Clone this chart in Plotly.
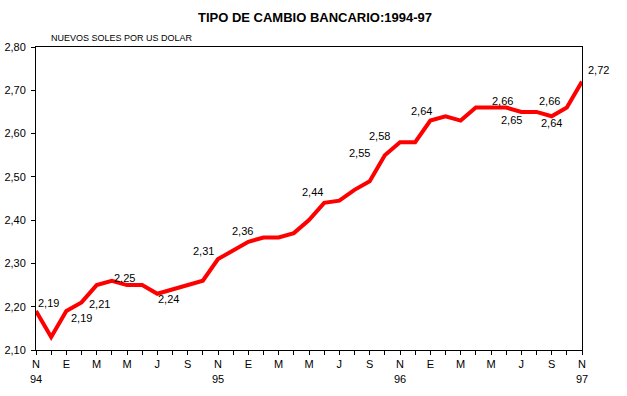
import plotly.graph_objects as go

# Monthly data, Nov 1994 .. Nov 1997
months = ["N", "D", "E", "F", "M", "A", "M", "J", "J", "A", "S", "O",
          "N", "D", "E", "F", "M", "A", "M", "J", "J", "A", "S", "O",
          "N", "D", "E", "F", "M", "A", "M", "J", "J", "A", "S", "O", "N"]
years = {0: "94", 12: "95", 24: "96", 36: "97"}
values = [2.19, 2.13, 2.19, 2.21, 2.25, 2.26, 2.25, 2.25, 2.23, 2.24, 2.25, 2.26,
          2.31, 2.33, 2.35, 2.36, 2.36, 2.37, 2.40, 2.44, 2.445, 2.47, 2.49, 2.55,
          2.58, 2.58, 2.63, 2.64, 2.63, 2.66, 2.66, 2.66, 2.65, 2.65, 2.64, 2.66, 2.72]
labelled = [0, 2, 3, 6, 9, 12, 15, 19, 23, 24, 27, 31, 32, 35, 34, 36]

# label offsets in pixels (xshift, yshift)
offsets = {0: (12, 8), 2: (15, -7), 3: (18, -2), 6: (-3, 7), 9: (-4, -10),
           12: (-15, 8), 15: (-21, 6), 19: (-12, 11), 23: (-25, 2), 24: (-21, 6),
           27: (-24, 5), 31: (-4, 7), 32: (-10, -8), 35: (-17, 7), 34: (0, -7),
           36: (16, 12)}

FONT = "Liberation Sans, Arial, sans-serif"
x = list(range(len(values)))

tickvals = x
ticktext = []
for i, m in enumerate(months):
    if i % 2 == 0:
        ticktext.append(m + ("<br>" + years[i] if i in years else ""))
    else:
        ticktext.append("")

fig = go.Figure()
fig.add_trace(go.Scatter(x=x, y=values, mode="lines",
                         line=dict(color="#FF0000", width=4), hoverinfo="skip"))

for i in labelled:
    dx, dy = offsets[i]
    fig.add_annotation(x=i, y=values[i], xref="x", yref="y",
                       text=f"{values[i]:.2f}".replace(".", ","),
                       showarrow=False, xshift=dx, yshift=dy,
                       font=dict(family=FONT, size=11, color="black"))

fig.add_annotation(x=(49 - 36) / 546, y=(350 - 38) / 303, xref="paper", yref="paper",
                   xanchor="left", yanchor="middle", showarrow=False,
                   text="NUEVOS SOLES POR US DOLAR",
                   font=dict(family=FONT, size=9, color="black"))

fig.update_layout(
    width=627, height=396,
    margin=dict(l=36, r=45, t=47, b=46, autoexpand=False),
    paper_bgcolor="white", plot_bgcolor="white",
    showlegend=False,
    separators=",.",
    title=dict(text="<b>TIPO DE CAMBIO BANCARIO:1994-97</b>",
               x=315 / 627, xanchor="center", y=1 - 17 / 396, yanchor="middle",
               yref="container", xref="container", automargin=False,
               font=dict(family=FONT, size=13, color="black")),
    font=dict(family=FONT, size=11, color="black"),
)
fig.update_xaxes(range=[0, 36], tickmode="array", tickvals=tickvals, ticktext=ticktext,
                 showline=True, linecolor="black", linewidth=1, mirror=True,
                 ticks="outside", ticklen=4, tickcolor="black", showgrid=False,
                 zeroline=False, tickangle=0, automargin=False,
                 tickfont=dict(family=FONT, size=11))
fig.update_yaxes(range=[2.1, 2.8], dtick=0.1, tick0=2.1, tickformat=".2f",
                 showline=True, linecolor="black", linewidth=1, mirror=True,
                 ticks="outside", ticklen=4, tickcolor="black", showgrid=False,
                 zeroline=False, automargin=False, ticklabelstandoff=3,
                 tickfont=dict(family=FONT, size=11))

fig.write_html("out.html",
               post_script="document.body.style.margin='0';document.body.style.overflow='hidden';",
               config={"displayModeBar": False})
